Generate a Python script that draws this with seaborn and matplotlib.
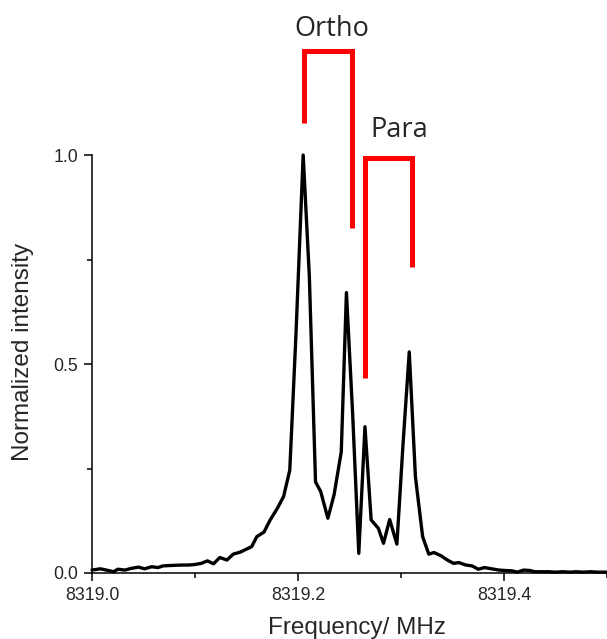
import pandas as pd
import matplotlib.pyplot as plt
import matplotlib.ticker as mticker
import seaborn as sns

# spectrum
freq = [8319.000, 8319.008, 8319.014, 8319.021, 8319.025, 8319.032, 8319.038, 8319.045,
        8319.051, 8319.058, 8319.064, 8319.069, 8319.077, 8319.087, 8319.093, 8319.099,
        8319.106, 8319.112, 8319.118, 8319.124, 8319.131, 8319.137, 8319.144, 8319.149,
        8319.155, 8319.160, 8319.167, 8319.173, 8319.180, 8319.186, 8319.192, 8319.198,
        8319.205, 8319.211, 8319.217, 8319.222, 8319.229, 8319.235, 8319.242, 8319.247,
        8319.253, 8319.259, 8319.265, 8319.271, 8319.278, 8319.283, 8319.289, 8319.296,
        8319.302, 8319.308, 8319.314, 8319.321, 8319.327, 8319.332, 8319.339, 8319.345,
        8319.351, 8319.356, 8319.363, 8319.369, 8319.375, 8319.381, 8319.388, 8319.395,
        8319.401, 8319.408, 8319.413, 8319.419, 8319.425, 8319.430, 8319.437, 8319.443,
        8319.450, 8319.457, 8319.464, 8319.470, 8319.477, 8319.484, 8319.491, 8319.500]
intensity = [0.007, 0.010, 0.007, 0.003, 0.009, 0.007, 0.011, 0.014,
             0.010, 0.015, 0.013, 0.017, 0.018, 0.019, 0.019, 0.020,
             0.023, 0.029, 0.022, 0.037, 0.031, 0.045, 0.050, 0.056,
             0.063, 0.087, 0.098, 0.127, 0.155, 0.183, 0.246, 0.570,
             1.000, 0.710, 0.218, 0.195, 0.131, 0.187, 0.290, 0.671,
             0.383, 0.047, 0.350, 0.127, 0.107, 0.071, 0.128, 0.069,
             0.310, 0.529, 0.230, 0.087, 0.045, 0.049, 0.041, 0.031,
             0.023, 0.025, 0.019, 0.017, 0.009, 0.013, 0.010, 0.007,
             0.006, 0.005, 0.002, 0.007, 0.006, 0.003, 0.003, 0.003,
             0.002, 0.003, 0.002, 0.003, 0.002, 0.003, 0.002, 0.002]

# bracket markers: peak positions, bar height, foot heights (left, right)
ortho_peaks = [8319.206, 8319.252]
ortho_heights = [1.25, 1.077, 0.825]
ortho_label = (8319.233, 1.285)
para_peaks = [8319.265, 8319.311]
para_heights = [0.993, 0.467, 0.732]
para_label = (8319.298, 1.043)

df = pd.DataFrame({"freq": freq, "intensity": intensity})

sns.set_style("ticks")
plt.rcParams["font.family"] = ["Liberation Sans", "DejaVu Sans"]

fig = plt.figure(figsize=(6.07, 6.39), dpi=100)
ax = fig.add_axes([0.1516, 0.1033, 0.8484, 0.654])

sns.lineplot(data=df, x="freq", y="intensity", sort=False, color="black",
             linewidth=2.4, clip_on=False, ax=ax)

def bracket(peaks, heights, label, pos):
    top, left_foot, right_foot = heights
    ax.plot([peaks[0], peaks[0], peaks[1], peaks[1]],
            [left_foot, top, top, right_foot], color="#ff0000", lw=3.6,
            clip_on=False, solid_joinstyle="miter", solid_capstyle="butt")
    ax.text(pos[0], pos[1], label, ha="center", va="baseline",
            fontsize=19.5, family="Open Sans", clip_on=False)

bracket(ortho_peaks, ortho_heights, "Ortho", ortho_label)
bracket(para_peaks, para_heights, "Para", para_label)

ax.set_xlim(8319.0, 8319.5)
ax.set_ylim(0, 1.0)
ax.xaxis.set_major_locator(mticker.FixedLocator([8319.0, 8319.2, 8319.4]))
ax.xaxis.set_minor_locator(mticker.FixedLocator([8319.1, 8319.3, 8319.5]))
ax.yaxis.set_major_locator(mticker.FixedLocator([0.0, 0.5, 1.0]))
ax.yaxis.set_minor_locator(mticker.FixedLocator([0.25, 0.75]))
ax.xaxis.set_major_formatter(mticker.FormatStrFormatter("%.1f"))
ax.yaxis.set_major_formatter(mticker.FormatStrFormatter("%.1f"))
ax.tick_params(which="both", direction="out", width=1.1, labelsize=12.8,
               color="black", pad=4)
ax.tick_params(which="major", length=6)
ax.tick_params(which="minor", length=3.5)

ax.set_xlabel("Frequency/ MHz", fontsize=17.5)
ax.set_ylabel("Normalized intensity", fontsize=17.5)
ax.xaxis.set_label_coords(0.515, -0.105)
ax.yaxis.set_label_coords(-0.113, 0.53)
for s in ["left", "bottom"]:
    ax.spines[s].set_linewidth(1.1)
    ax.spines[s].set_color("black")
sns.despine(ax=ax)

plt.savefig("out.png", dpi=100)
